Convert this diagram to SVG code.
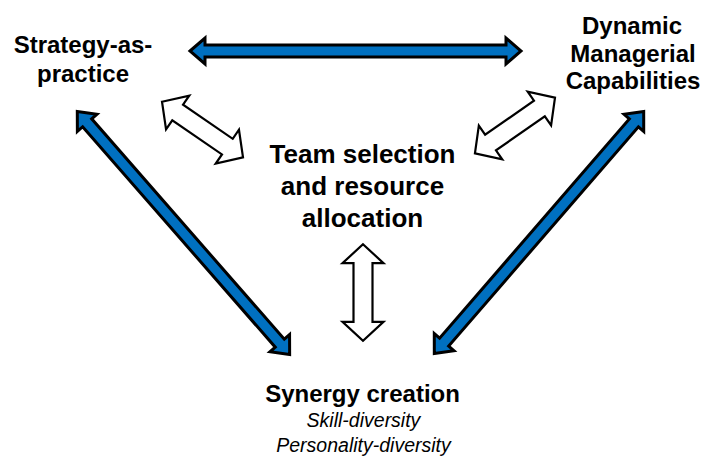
<svg xmlns="http://www.w3.org/2000/svg" width="704" height="457" viewBox="0 0 704 457">
<style>
  .lbl { font-family: "Liberation Sans", Arial, Helvetica, sans-serif; fill: #000; text-anchor: middle; }
  .b24 { font-size: 24px; font-weight: bold; }
  .b26 { font-size: 26px; font-weight: bold; }
  .it { font-size: 19.5px; font-style: italic; }
  .blue { fill: #0070C0; stroke: #000; stroke-width: 3; stroke-linejoin: miter; stroke-miterlimit: 10; }
  .white { fill: #fff; stroke: #000; stroke-width: 2.2; stroke-linejoin: miter; stroke-miterlimit: 10; }
</style>
<rect width="704" height="457" fill="#fff"/>
<g id="connectors">
  <polygon class="blue" transform="translate(190,51)" points="0,0 15,-13 15,-6 316,-6 316,-13 331,0 316,13 316,6 15,6 15,13"/>
  <polygon class="blue" transform="translate(77.3,111.5) rotate(48.85)" points="0,0 15,-13 15,-6 307.7,-6 307.7,-13 322.7,0 307.7,13 307.7,6 15,6 15,13"/>
  <polygon class="blue" transform="translate(643.7,111.5) rotate(130.87)" points="0,0 15,-13 15,-6 305,-6 305,-13 320,0 305,13 305,6 15,6 15,13"/>
  <polygon class="white" transform="translate(162,101.7) rotate(34.5)" points="0,0 19,-20.5 19,-9.5 79.3,-9.5 79.3,-20.5 98.3,0 79.3,20.5 79.3,9.5 19,9.5 19,20.5"/>
  <polygon class="white" transform="translate(555,97.7) rotate(145.2)" points="0,0 19,-20.5 19,-9.5 78.5,-9.5 78.5,-20.5 97.5,0 78.5,20.5 78.5,9.5 19,9.5 19,20.5"/>
  <polygon class="white" transform="translate(363,244.2) rotate(90)" points="0,0 19,-20.5 19,-9.5 77.6,-9.5 77.6,-20.5 96.6,0 77.6,20.5 77.6,9.5 19,9.5 19,20.5"/>
</g>
<g id="strategy">
  <text class="lbl b24" x="83" y="53">Strategy-as-</text>
  <text class="lbl b24" x="83" y="82">practice</text>
</g>
<g id="dynamic">
  <text class="lbl b24" x="632" y="34">Dynamic</text>
  <text class="lbl b24" x="633" y="61.5">Managerial</text>
  <text class="lbl b24" x="633" y="89">Capabilities</text>
</g>
<g id="team">
  <text class="lbl b26" x="362.5" y="163">Team selection</text>
  <text class="lbl b26" x="362.5" y="195">and resource</text>
  <text class="lbl b26" x="362.5" y="227">allocation</text>
</g>
<g id="synergy">
  <text class="lbl b24" x="362.5" y="402">Synergy creation</text>
  <text class="lbl it" x="363.5" y="427">Skill-diversity</text>
  <text class="lbl it" x="363.5" y="452">Personality-diversity</text>
</g>
</svg>
